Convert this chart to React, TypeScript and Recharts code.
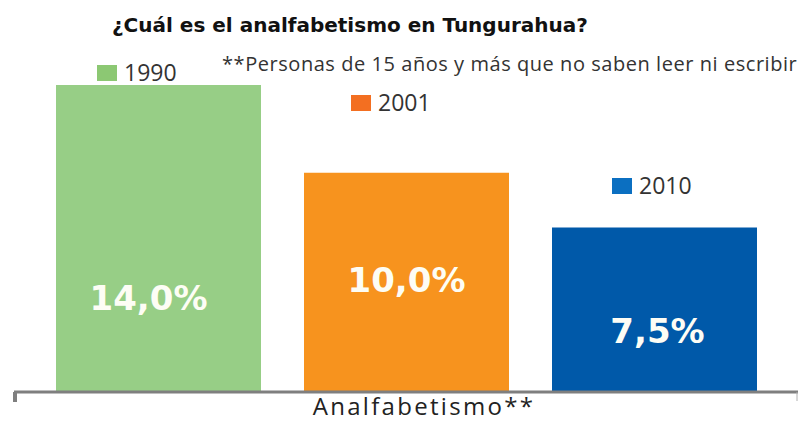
import { BarChart, Bar, XAxis, YAxis, LabelList } from "recharts";

const categories = ["Analfabetismo**"];
const years = ["1990", "2001", "2010"];
const values = [14.0, 10.0, 7.5];
const valueLabels = ["14,0%", "10,0%", "7,5%"];
const title = "¿Cuál es el analfabetismo en Tungurahua?";
const note = "**Personas de 15 años y más que no saben leer ni escribir";

const barColors = ["#97ce86", "#f7931e", "#0059a9"];
const swatchColors = ["#8cc873", "#f36f21", "#0b6fc1"];

const W = 798;
const H = 421;
const X_AXIS_H = 29;
const PLOT_LEFT = 14;
const AXIS_Y = H - X_AXIS_H;

// per-series label placement (infographic style, not uniform)
const LEGEND_DX = [41, 47, 60];
const LEGEND_RISE = [327, 297, 214];
const VALUE_DX = [-10, 0, 3];
const VALUE_RISE = [82, 100, 49];

const data = categories.map((c) => {
  const row: any = { category: c };
  years.forEach((y, i) => {
    row["y" + y] = values[i];
  });
  return row;
});

function makeLabel(i: number) {
  return (props: any) => {
    const x = Number(props.x);
    const y = Number(props.y);
    const w = Number(props.width);
    const h = Number(props.height);
    const base = y + h;
    const sx = x + LEGEND_DX[i];
    const sy = base - LEGEND_RISE[i];
    return (
      <g>
        <rect x={sx} y={sy} width={20} height={16} fill={swatchColors[i]} />
        <text x={sx + 27} y={sy + 16} fontFamily="Open Sans" fontSize={23} fill="#333">
          {years[i]}
        </text>
        <text
          x={x + w / 2 + VALUE_DX[i]}
          y={base - VALUE_RISE[i]}
          textAnchor="middle"
          fontFamily="DejaVu Sans"
          fontWeight="bold"
          fontSize={34}
          fill="#fdfdf5"
        >
          {valueLabels[i]}
        </text>
      </g>
    );
  };
}

function CategoryTick(props: any) {
  const { x, payload } = props;
  return (
    <g>
      <rect x={PLOT_LEFT - 1} y={AXIS_Y} width={4} height={10} fill="#7f7f7f" />
      <line x1={797} y1={AXIS_Y} x2={797} y2={AXIS_Y + 9} stroke="#b0b0b0" strokeWidth={1} />
      <text
        x={Number(x) + 18}
        y={AXIS_Y + 23}
        textAnchor="middle"
        fontFamily="Open Sans"
        fontSize={24}
        letterSpacing={2.3}
        fill="#222"
      >
        {payload.value}
      </text>
    </g>
  );
}

export default function App() {
  return (
    <div style={{ position: "absolute", left: 0, top: 0, width: W, height: H, background: "#fff" }}>
      <BarChart
        width={W}
        height={H}
        data={data}
        margin={{ top: 85, right: 0, left: PLOT_LEFT, bottom: 0 }}
        barSize={205}
        barGap={43}
      >
        <XAxis
          dataKey="category"
          height={X_AXIS_H}
          axisLine={{ stroke: "#7f7f7f", strokeWidth: 3 }}
          tickLine={false}
          tick={<CategoryTick />}
          interval={0}
        />
        <YAxis hide domain={[0, 14]} />
        {years.map((y, i) => (
          <Bar key={y} dataKey={"y" + y} fill={barColors[i]} isAnimationActive={false}>
            <LabelList dataKey={"y" + y} content={makeLabel(i)} />
          </Bar>
        ))}
      </BarChart>
      <svg width={W} height={H} style={{ position: "absolute", left: 0, top: 0, pointerEvents: "none" }}>
        <text x={112} y={32} fontFamily="DejaVu Sans" fontWeight="bold" fontSize={20} fill="#111">
          {title}
        </text>
        <text x={222} y={71} fontFamily="Open Sans" fontSize={20} letterSpacing={0.55} fill="#333">
          {note}
        </text>
      </svg>
    </div>
  );
}
